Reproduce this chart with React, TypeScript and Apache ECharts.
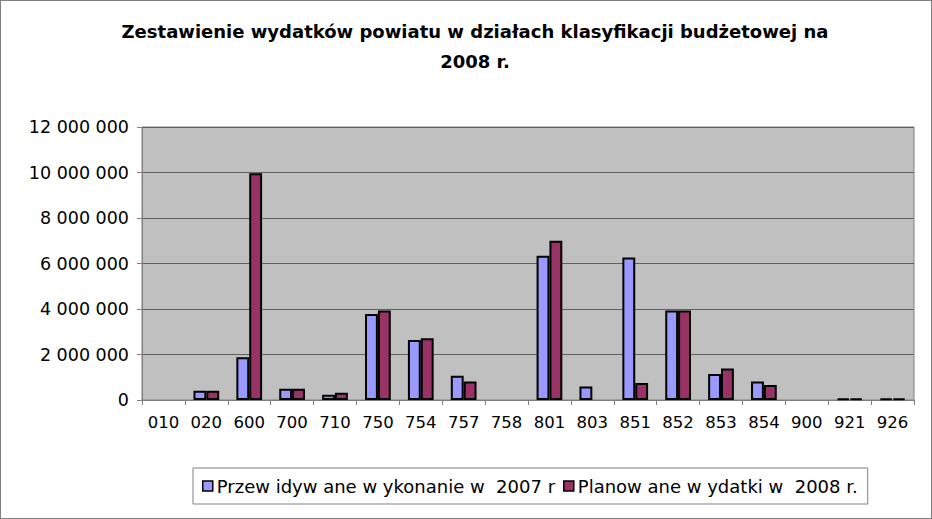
import React, { useEffect, useRef } from "react";
import * as echarts from "echarts";

const categories = ["010", "020", "600", "700", "710", "750", "754", "757", "758", "801", "803", "851", "852", "853", "854", "900", "921", "926"];
const seriesNames = ["Przew idyw ane w ykonanie w  2007 r", "Planow ane w ydatki w  2008 r."];
const expected2007 = [0, 410000, 1880000, 500000, 235000, 3780000, 2640000, 1070000, 0, 6340000, 590000, 6260000, 3930000, 1140000, 810000, 0, 60000, 60000];
const planned2008 = [0, 410000, 9970000, 500000, 320000, 3930000, 2710000, 810000, 0, 7000000, 0, 750000, 3930000, 1390000, 660000, 0, 60000, 60000];
const titleText = "Zestawienie wydatków powiatu w działach klasyfikacji budżetowej na\n2008 r.";

const hideZero = (arr: number[]) => arr.map((v) => (v === 0 ? "-" : v));

export default function App() {
  const ref = useRef<HTMLDivElement>(null);
  useEffect(() => {
    const chart = echarts.init(ref.current!, null, { renderer: "svg" });
    const font = "DejaVu Sans, sans-serif";
    chart.setOption({
      animation: false,
      backgroundColor: "#ffffff",
      title: {
        text: titleText,
        left: 469,
        textAlign: "center",
        top: 10,
        textStyle: { fontFamily: font, fontSize: 18, fontWeight: "bold", color: "#000", lineHeight: 30 },
      },
      grid: { left: 141, right: 17, top: 126, bottom: 118, show: true, backgroundColor: "#C0C0C0", borderColor: "#808080", borderWidth: 1 },
      legend: {
        left: 192,
        top: 467,
        padding: [9, 10, 9, 9],
        borderColor: "#808080",
        borderWidth: 1,
        itemWidth: 10,
        itemHeight: 10,
        itemGap: 8,
        icon: "rect",
        itemStyle: { borderColor: "#000", borderWidth: 1.5 },
        textStyle: { fontFamily: font, fontSize: 18, color: "#000", padding: [0, 0, 0, -1] },
        data: seriesNames,
      },
      xAxis: {
        type: "category",
        data: categories,
        axisLine: { lineStyle: { color: "#808080", width: 1 } },
        axisTick: { show: true, length: 5, lineStyle: { color: "#808080" } },
        axisLabel: { fontFamily: font, fontSize: 16.5, color: "#000", margin: 14 },
      },
      yAxis: {
        type: "value",
        min: 0,
        max: 12000000,
        interval: 2000000,
        axisLine: { show: true, lineStyle: { color: "#808080" } },
        axisTick: { show: true, length: 5, lineStyle: { color: "#808080" } },
        splitLine: { lineStyle: { color: "#606060", width: 1 } },
        axisLabel: {
          fontFamily: font,
          fontSize: 17.5,
          color: "#000",
          margin: 13,
          formatter: (v: number) => String(v).replace(/\B(?=(\d{3})+(?!\d))/g, " "),
        },
      },
      series: [
        {
          name: seriesNames[0],
          type: "bar",
          data: hideZero(expected2007),
          barGap: "0%",
          barCategoryGap: "40%",
          itemStyle: { color: "#9999FF", borderColor: "#000", borderWidth: 2 },
        },
        {
          name: seriesNames[1],
          type: "bar",
          data: hideZero(planned2008),
          barGap: "0%",
          barCategoryGap: "40%",
          itemStyle: { color: "#993366", borderColor: "#000", borderWidth: 2 },
        },
      ],
    });
    return () => chart.dispose();
  }, []);
  return (
    <div style={{ position: "fixed", left: 0, top: 0, width: 932, height: 519, boxSizing: "border-box", border: "1px solid #808080" }}>
      <div ref={ref} style={{ width: 930, height: 517 }} />
    </div>
  );
}
